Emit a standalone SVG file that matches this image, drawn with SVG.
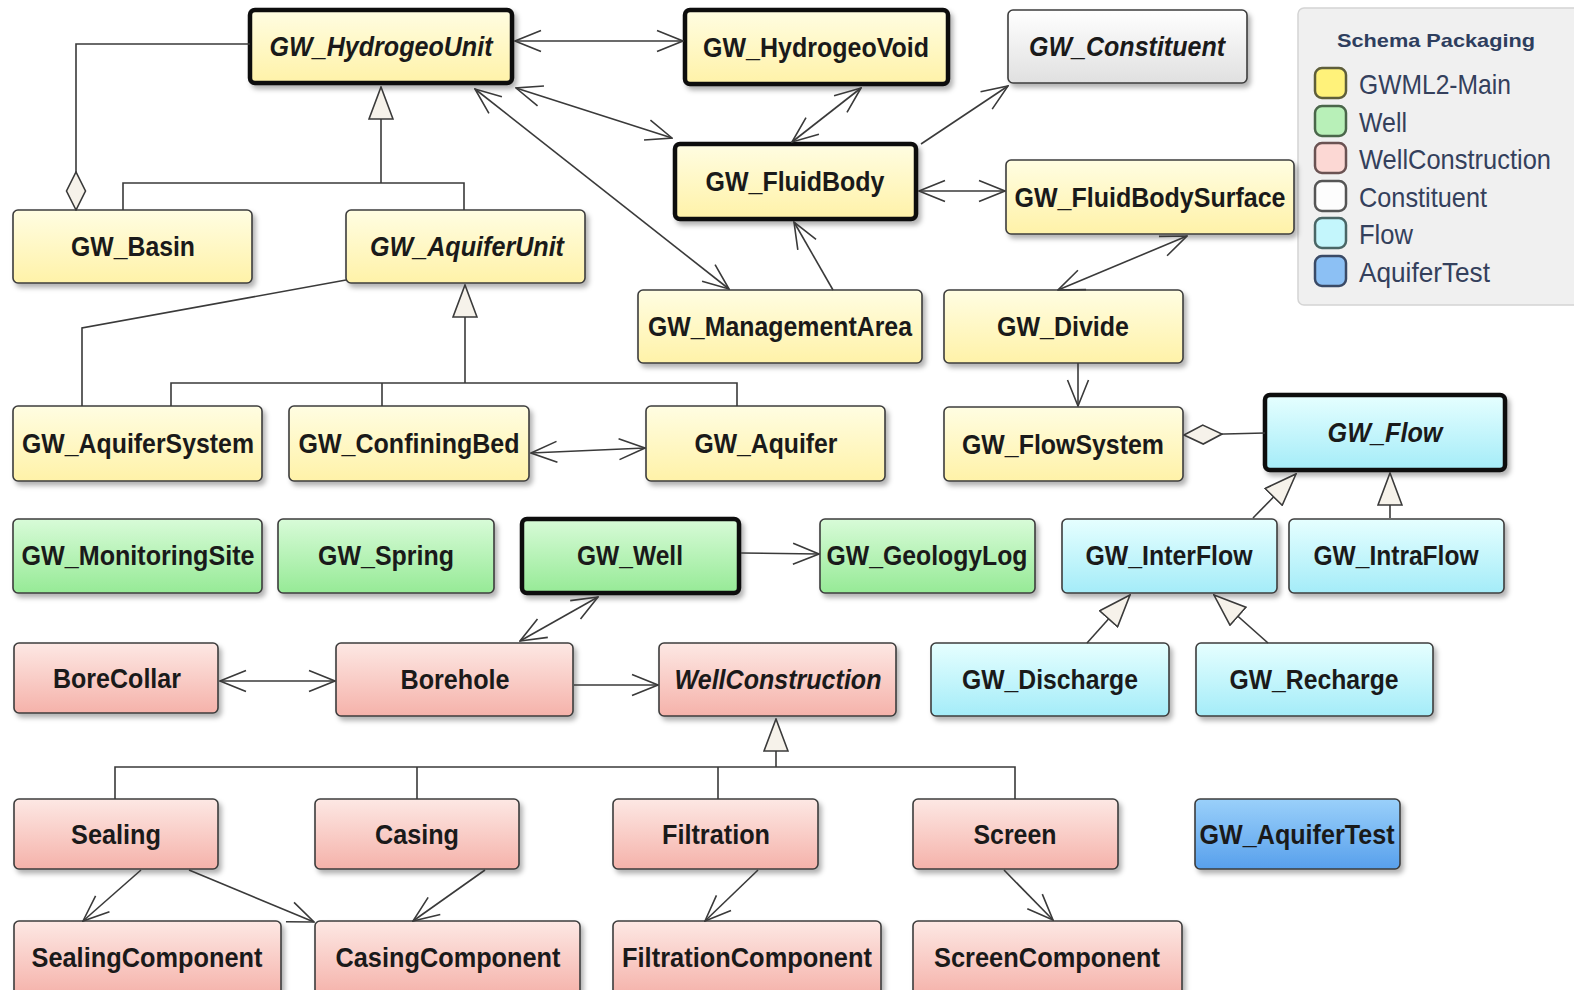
<svg xmlns="http://www.w3.org/2000/svg" width="1574" height="990" viewBox="0 0 1574 990">
<defs>
<linearGradient id="gY" x1="0" y1="0" x2="0" y2="1"><stop offset="0" stop-color="#fffde2"/><stop offset="1" stop-color="#fff2a8"/></linearGradient>
<linearGradient id="gG" x1="0" y1="0" x2="0" y2="1"><stop offset="0" stop-color="#d8fbd8"/><stop offset="1" stop-color="#96ea96"/></linearGradient>
<linearGradient id="gP" x1="0" y1="0" x2="0" y2="1"><stop offset="0" stop-color="#fde8e4"/><stop offset="1" stop-color="#f5b2aa"/></linearGradient>
<linearGradient id="gC" x1="0" y1="0" x2="0" y2="1"><stop offset="0" stop-color="#e6ffff"/><stop offset="1" stop-color="#a4ecf8"/></linearGradient>
<linearGradient id="gB" x1="0" y1="0" x2="0" y2="1"><stop offset="0" stop-color="#9ad0fa"/><stop offset="1" stop-color="#58a0ec"/></linearGradient>
<linearGradient id="gW" x1="0" y1="0" x2="0" y2="1"><stop offset="0" stop-color="#ffffff"/><stop offset="1" stop-color="#e0e0e0"/></linearGradient>
<filter id="sh" x="-10%" y="-10%" width="130%" height="140%"><feDropShadow dx="3" dy="4" stdDeviation="2.5" flood-color="#000" flood-opacity="0.3"/></filter>
<marker id="arr" viewBox="0 0 30 24" refX="29" refY="12" markerWidth="30" markerHeight="24" orient="auto-start-reverse" markerUnits="userSpaceOnUse"><path d="M3,1.5 L29,12 L3,22.5" fill="none" stroke="#3a3a3a" stroke-width="1.6"/></marker>
<marker id="gen" viewBox="0 0 34 26" refX="33" refY="13" markerWidth="34" markerHeight="26" orient="auto" markerUnits="userSpaceOnUse"><path d="M1,1 L33,13 L1,25 Z" fill="#f6f2ea" stroke="#3a3a3a" stroke-width="1.6"/></marker>
<marker id="dia" viewBox="0 0 40 22" refX="1" refY="11" markerWidth="40" markerHeight="22" orient="auto" markerUnits="userSpaceOnUse"><path d="M1,11 L20,1.5 L39,11 L20,20.5 Z" fill="#f6f2ea" stroke="#3a3a3a" stroke-width="1.6"/></marker>
</defs>
<style>
.n rect{stroke:#3c3c3c;stroke-width:1.6;filter:url(#sh)}
.n.t rect{stroke:#111;stroke-width:4.5}
.y rect{fill:url(#gY)} .g rect{fill:url(#gG)} .p rect{fill:url(#gP)} .c rect{fill:url(#gC)} .b rect{fill:url(#gB)} .w rect{fill:url(#gW)}
.n text{font-family:"Liberation Sans",Arial,sans-serif;font-weight:bold;font-size:27px;fill:#1a1a1a;text-anchor:middle}
.n text.i{font-style:italic}
.l{fill:none;stroke:#3a3a3a;stroke-width:1.6}
.lg{font-family:"Liberation Sans",Arial,sans-serif;font-size:28px;fill:#34405c}
.sw{stroke-width:2.5}
</style>
<rect width="1574" height="990" fill="#ffffff"/>

<g id="legend">
<rect x="1298" y="8" width="286" height="297" rx="6" fill="#f0f0f0" stroke="#d4d4d4" stroke-width="1.5"/>
<text x="1436" y="47" font-family="Liberation Sans,Arial,sans-serif" font-weight="bold" font-size="19" fill="#2e3e5e" text-anchor="middle" textLength="198" lengthAdjust="spacingAndGlyphs">Schema Packaging</text>
<rect class="sw" x="1315" y="68" width="31" height="30" rx="7" fill="#fff27a" stroke="#5e5e3a"/>
<rect class="sw" x="1315" y="106" width="31" height="30" rx="7" fill="#b8f0b8" stroke="#4a664a"/>
<rect class="sw" x="1315" y="143" width="31" height="30" rx="7" fill="#fcd8d4" stroke="#6a5252"/>
<rect class="sw" x="1315" y="181" width="31" height="30" rx="7" fill="#fdfdfd" stroke="#555555"/>
<rect class="sw" x="1315" y="218" width="31" height="30" rx="7" fill="#c4f6fc" stroke="#4a6666"/>
<rect class="sw" x="1315" y="256" width="31" height="30" rx="7" fill="#8cc0f4" stroke="#3a4a66"/>
<text class="lg" x="1359" y="94" textLength="152" lengthAdjust="spacingAndGlyphs">GWML2-Main</text>
<text class="lg" x="1359" y="132" textLength="48" lengthAdjust="spacingAndGlyphs">Well</text>
<text class="lg" x="1359" y="169" textLength="192" lengthAdjust="spacingAndGlyphs">WellConstruction</text>
<text class="lg" x="1359" y="207" textLength="128" lengthAdjust="spacingAndGlyphs">Constituent</text>
<text class="lg" x="1359" y="244" textLength="54" lengthAdjust="spacingAndGlyphs">Flow</text>
<text class="lg" x="1359" y="282" textLength="131" lengthAdjust="spacingAndGlyphs">AquiferTest</text>
</g>

<g id="n-hydrogeounit" class="n y t"><rect x="250" y="10" width="262" height="73" rx="5"/><text class="i" x="381" y="56" textLength="223" lengthAdjust="spacingAndGlyphs">GW_HydrogeoUnit</text></g>
<g id="n-hydrogeovoid" class="n y t"><rect x="685" y="10" width="263" height="74" rx="5"/><text x="816" y="57" textLength="226" lengthAdjust="spacingAndGlyphs">GW_HydrogeoVoid</text></g>
<g id="n-constituent" class="n w"><rect x="1008" y="10" width="239" height="73" rx="5"/><text class="i" x="1127" y="56" textLength="196" lengthAdjust="spacingAndGlyphs">GW_Constituent</text></g>
<g id="n-fluidbody" class="n y t"><rect x="675" y="144" width="241" height="75" rx="5"/><text x="795" y="191" textLength="179" lengthAdjust="spacingAndGlyphs">GW_FluidBody</text></g>
<g id="n-fluidbodysurface" class="n y"><rect x="1006" y="160" width="288" height="74" rx="5"/><text x="1150" y="207" textLength="271" lengthAdjust="spacingAndGlyphs">GW_FluidBodySurface</text></g>
<g id="n-basin" class="n y"><rect x="13" y="210" width="239" height="73" rx="5"/><text x="133" y="256" textLength="124" lengthAdjust="spacingAndGlyphs">GW_Basin</text></g>
<g id="n-aquiferunit" class="n y"><rect x="346" y="210" width="239" height="73" rx="5"/><text class="i" x="467" y="256" textLength="194" lengthAdjust="spacingAndGlyphs">GW_AquiferUnit</text></g>
<g id="n-managementarea" class="n y"><rect x="638" y="290" width="284" height="73" rx="5"/><text x="780" y="336" textLength="264" lengthAdjust="spacingAndGlyphs">GW_ManagementArea</text></g>
<g id="n-divide" class="n y"><rect x="944" y="290" width="239" height="73" rx="5"/><text x="1063" y="336" textLength="132" lengthAdjust="spacingAndGlyphs">GW_Divide</text></g>
<g id="n-aquifersystem" class="n y"><rect x="13" y="406" width="249" height="75" rx="5"/><text x="138" y="453" textLength="232" lengthAdjust="spacingAndGlyphs">GW_AquiferSystem</text></g>
<g id="n-confiningbed" class="n y"><rect x="289" y="406" width="240" height="75" rx="5"/><text x="409" y="453" textLength="221" lengthAdjust="spacingAndGlyphs">GW_ConfiningBed</text></g>
<g id="n-aquifer" class="n y"><rect x="646" y="406" width="239" height="75" rx="5"/><text x="766" y="453" textLength="143" lengthAdjust="spacingAndGlyphs">GW_Aquifer</text></g>
<g id="n-flowsystem" class="n y"><rect x="944" y="407" width="239" height="74" rx="5"/><text x="1063" y="454" textLength="202" lengthAdjust="spacingAndGlyphs">GW_FlowSystem</text></g>
<g id="n-flow" class="n c t"><rect x="1265" y="395" width="240" height="75" rx="5"/><text class="i" x="1385" y="442" textLength="115" lengthAdjust="spacingAndGlyphs">GW_Flow</text></g>
<g id="n-monitoringsite" class="n g"><rect x="13" y="519" width="249" height="74" rx="5"/><text x="138" y="565" textLength="233" lengthAdjust="spacingAndGlyphs">GW_MonitoringSite</text></g>
<g id="n-spring" class="n g"><rect x="278" y="519" width="216" height="74" rx="5"/><text x="386" y="565" textLength="136" lengthAdjust="spacingAndGlyphs">GW_Spring</text></g>
<g id="n-well" class="n g t"><rect x="522" y="519" width="217" height="74" rx="5"/><text x="630" y="565" textLength="106" lengthAdjust="spacingAndGlyphs">GW_Well</text></g>
<g id="n-geologylog" class="n g"><rect x="820" y="519" width="215" height="74" rx="5"/><text x="927" y="565" textLength="201" lengthAdjust="spacingAndGlyphs">GW_GeologyLog</text></g>
<g id="n-interflow" class="n c"><rect x="1062" y="519" width="215" height="74" rx="5"/><text x="1169" y="565" textLength="167" lengthAdjust="spacingAndGlyphs">GW_InterFlow</text></g>
<g id="n-intraflow" class="n c"><rect x="1289" y="519" width="215" height="74" rx="5"/><text x="1396" y="565" textLength="165" lengthAdjust="spacingAndGlyphs">GW_IntraFlow</text></g>
<g id="n-borecollar" class="n p"><rect x="14" y="643" width="204" height="70" rx="5"/><text x="117" y="688" textLength="128" lengthAdjust="spacingAndGlyphs">BoreCollar</text></g>
<g id="n-borehole" class="n p"><rect x="336" y="643" width="237" height="73" rx="5"/><text x="455" y="689" textLength="109" lengthAdjust="spacingAndGlyphs">Borehole</text></g>
<g id="n-wellconstruction" class="n p"><rect x="659" y="643" width="237" height="73" rx="5"/><text class="i" x="778" y="689" textLength="207" lengthAdjust="spacingAndGlyphs">WellConstruction</text></g>
<g id="n-discharge" class="n c"><rect x="931" y="643" width="238" height="73" rx="5"/><text x="1050" y="689" textLength="176" lengthAdjust="spacingAndGlyphs">GW_Discharge</text></g>
<g id="n-recharge" class="n c"><rect x="1196" y="643" width="237" height="73" rx="5"/><text x="1314" y="689" textLength="169" lengthAdjust="spacingAndGlyphs">GW_Recharge</text></g>
<g id="n-sealing" class="n p"><rect x="14" y="799" width="204" height="70" rx="5"/><text x="116" y="844" textLength="90" lengthAdjust="spacingAndGlyphs">Sealing</text></g>
<g id="n-casing" class="n p"><rect x="315" y="799" width="204" height="70" rx="5"/><text x="417" y="844" textLength="84" lengthAdjust="spacingAndGlyphs">Casing</text></g>
<g id="n-filtration" class="n p"><rect x="613" y="799" width="205" height="70" rx="5"/><text x="716" y="844" textLength="108" lengthAdjust="spacingAndGlyphs">Filtration</text></g>
<g id="n-screen" class="n p"><rect x="913" y="799" width="205" height="70" rx="5"/><text x="1015" y="844" textLength="83" lengthAdjust="spacingAndGlyphs">Screen</text></g>
<g id="n-aquifertest" class="n b"><rect x="1195" y="799" width="205" height="70" rx="5"/><text x="1297" y="844" textLength="195" lengthAdjust="spacingAndGlyphs">GW_AquiferTest</text></g>
<g id="n-sealingcomponent" class="n p"><rect x="14" y="921" width="267" height="75" rx="5"/><text x="147" y="967" textLength="231" lengthAdjust="spacingAndGlyphs">SealingComponent</text></g>
<g id="n-casingcomponent" class="n p"><rect x="315" y="921" width="265" height="75" rx="5"/><text x="448" y="967" textLength="225" lengthAdjust="spacingAndGlyphs">CasingComponent</text></g>
<g id="n-filtrationcomponent" class="n p"><rect x="613" y="921" width="268" height="75" rx="5"/><text x="747" y="967" textLength="250" lengthAdjust="spacingAndGlyphs">FiltrationComponent</text></g>
<g id="n-screencomponent" class="n p"><rect x="913" y="921" width="269" height="75" rx="5"/><text x="1047" y="967" textLength="226" lengthAdjust="spacingAndGlyphs">ScreenComponent</text></g>

<g id="connectors">
<path class="l" d="M515,41 L683,41" marker-start="url(#arr)" marker-end="url(#arr)"/>
<path class="l" d="M76,210 L76,44 L250,44" marker-start="url(#dia)"/>
<path class="l" d="M381,183 L381,87" marker-end="url(#gen)"/>
<path class="l" d="M123,210 L123,183 L464,183 L464,210"/>
<path class="l" d="M516,88 L672,138" marker-start="url(#arr)" marker-end="url(#arr)"/>
<path class="l" d="M475,89 L729,289" marker-start="url(#arr)" marker-end="url(#arr)"/>
<path class="l" d="M861,88 L792,142" marker-start="url(#arr)" marker-end="url(#arr)"/>
<path class="l" d="M921,144 L1008,86" marker-end="url(#arr)"/>
<path class="l" d="M919,191 L1005,191" marker-start="url(#arr)" marker-end="url(#arr)"/>
<path class="l" d="M833,290 L794,222" marker-end="url(#arr)"/>
<path class="l" d="M1187,236 L1058,290" marker-start="url(#arr)" marker-end="url(#arr)"/>
<path class="l" d="M1078,363 L1078,406" marker-end="url(#arr)"/>
<path class="l" d="M346,280 L82,328 L82,406"/>
<path class="l" d="M465,383 L465,285" marker-end="url(#gen)"/>
<path class="l" d="M171,406 L171,383 L737,383 L737,406 M382,383 L382,406"/>
<path class="l" d="M531,453 L645,448" marker-start="url(#arr)" marker-end="url(#arr)"/>
<path class="l" d="M1184,435 L1265,433" marker-start="url(#dia)"/>
<path class="l" d="M1253,518 L1296,474" marker-end="url(#gen)"/>
<path class="l" d="M1390,518 L1390,473" marker-end="url(#gen)"/>
<path class="l" d="M1087,643 L1130,595" marker-end="url(#gen)"/>
<path class="l" d="M1268,643 L1214,595" marker-end="url(#gen)"/>
<path class="l" d="M741,553 L819,554" marker-end="url(#arr)"/>
<path class="l" d="M520,641 L598,597" marker-start="url(#arr)" marker-end="url(#arr)"/>
<path class="l" d="M220,681 L335,681" marker-start="url(#arr)" marker-end="url(#arr)"/>
<path class="l" d="M574,685 L658,685" marker-end="url(#arr)"/>
<path class="l" d="M776,767 L776,719" marker-end="url(#gen)"/>
<path class="l" d="M115,799 L115,767 L1015,767 L1015,799 M417,767 L417,799 M718,767 L718,799"/>
<path class="l" d="M141,870 L83,921" marker-end="url(#arr)"/>
<path class="l" d="M189,870 L314,922" marker-end="url(#arr)"/>
<path class="l" d="M485,870 L413,921" marker-end="url(#arr)"/>
<path class="l" d="M758,870 L705,921" marker-end="url(#arr)"/>
<path class="l" d="M1004,870 L1053,920" marker-end="url(#arr)"/>
</g>
</svg>
